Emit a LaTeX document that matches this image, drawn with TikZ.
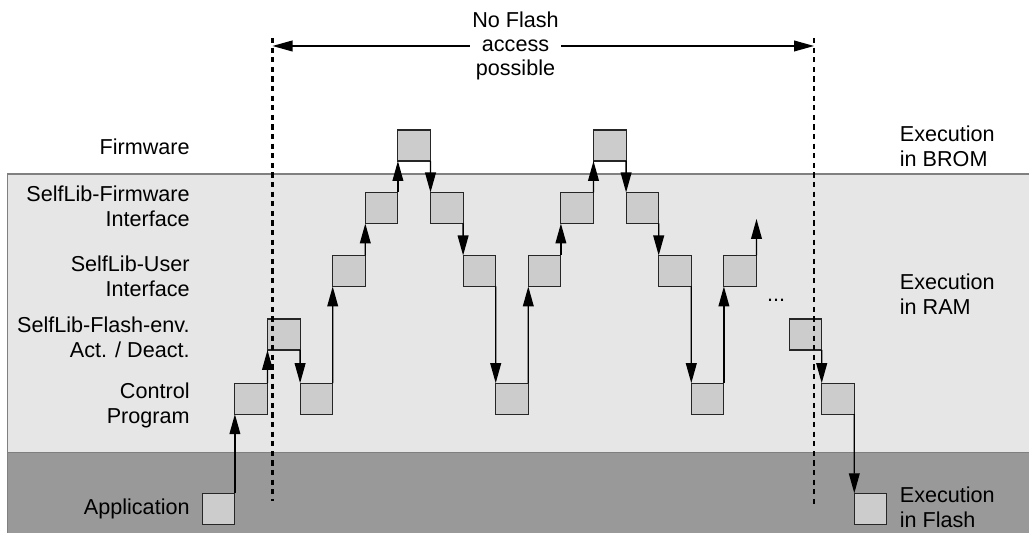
\documentclass[tikz,border=0pt]{standalone}
\usepackage{fontspec}
\setmainfont{Liberation Sans}
\usepackage{tikz}
\usetikzlibrary{arrows.meta}
\definecolor{ramgray}{HTML}{E6E6E6}
\definecolor{flashgray}{HTML}{999999}
\definecolor{boxgray}{HTML}{CCCCCC}
\definecolor{edgegray}{HTML}{808080}
\tikzstyle{blk} = [rectangle, minimum width=16.3pt, minimum height=15.5pt, inner sep=0pt, outer sep=0pt, draw=black!85, line width=0.55pt, fill=boxgray]
\tikzstyle{lvl} = [anchor=east, align=right, inner sep=0pt, font=\fontsize{10.8}{12.5}\selectfont]
\tikzstyle{mem} = [anchor=west, align=left, inner sep=0pt, font=\fontsize{10.8}{12.5}\selectfont]
\tikzstyle{arrow} = [line width=0.65pt, -{Triangle[length=10pt,width=5.4pt]}]
\tikzstyle{limit} = [line width=1.2pt, dash pattern=on 2.6pt off 2.2pt]

\begin{document}
\begin{tikzpicture}[x=0.5pt, y=0.5pt]
\useasboundingbox (0,0) rectangle (1029,533);

% memory areas
\filldraw[fill=ramgray, draw=edgegray, line width=0.6pt] (7.5,-2) rectangle (1040,359);
\filldraw[fill=flashgray, draw=edgegray, line width=0.6pt] (7.5,-2) rectangle (1040,80.3);

% level labels
\node (lfw) [lvl] at (190,386.3) {Firmware};
\node (lfi) [lvl] at (190,327.2) {SelfLib-Firmware\\Interface};
\node (lui) [lvl] at (190,256.3) {SelfLib-User\\Interface};
\node (lfe) [lvl] at (190,195.5) {SelfLib-Flash-env.\\Act. / Deact.};
\node (lcp) [lvl] at (190,127.2) {Control\\Program};
\node (lapp) [lvl] at (190,23.7) {Application};

\node (rbrom) [mem] at (899.5,387.2) {Execution\\in BROM};
\node (rram) [mem] at (899.5,238.8) {Execution\\in RAM};
\node (rflash) [mem] at (899.5,25.8) {Execution\\in Flash};

% call sequence
\node (app0) [blk] at (218.6,24.2) {};
\node (cp1) [blk] at (251.2,134.3) {};
\node (fe1) [blk] at (283.8,198.5) {};
\node (cp2) [blk] at (316.4,134.3) {};
\node (ui1) [blk] at (349.0,262) {};
\node (fi1) [blk] at (381.6,325) {};
\node (fw1) [blk] at (414.2,387.5) {};
\node (fi2) [blk] at (446.8,325) {};
\node (ui2) [blk] at (479.4,262) {};
\node (cp3) [blk] at (512.0,134.3) {};
\node (ui3) [blk] at (544.6,262) {};
\node (fi3) [blk] at (577.2,325) {};
\node (fw2) [blk] at (609.8,387.5) {};
\node (fi4) [blk] at (642.4,325) {};
\node (ui4) [blk] at (675.0,262) {};
\node (cp4) [blk] at (707.6,134.3) {};
\node (ui5) [blk] at (740.2,262) {};
\node (dots) [font=\fontsize{10.8}{12.5}\selectfont] at (776,233) {...};
\node (fe2) [blk] at (805.4,198.5) {};
\node (cp5) [blk] at (838.0,134.3) {};
\node (app1) [blk] at (870.6,24.2) {};
\coordinate (cont) at (756.5,314);

\draw [arrow] (app0.north east) -- (cp1.south west);
\draw [arrow] (cp1.north east) -- (fe1.south west);
\draw [arrow] (fe1.south east) -- (cp2.north west);
\draw [arrow] (cp2.north east) -- (ui1.south west);
\draw [arrow] (ui1.north east) -- (fi1.south west);
\draw [arrow] (fi1.north east) -- (fw1.south west);
\draw [arrow] (fw1.south east) -- (fi2.north west);
\draw [arrow] (fi2.south east) -- (ui2.north west);
\draw [arrow] (ui2.south east) -- (cp3.north west);
\draw [arrow] (cp3.north east) -- (ui3.south west);
\draw [arrow] (ui3.north east) -- (fi3.south west);
\draw [arrow] (fi3.north east) -- (fw2.south west);
\draw [arrow] (fw2.south east) -- (fi4.north west);
\draw [arrow] (fi4.south east) -- (ui4.north west);
\draw [arrow] (ui4.south east) -- (cp4.north west);
\draw [arrow] (cp4.north east) -- (ui5.south west);
\draw [arrow] (ui5.north east) -- (cont);
\draw [arrow] (fe2.south east) -- (cp5.north west);
\draw [arrow] (cp5.south east) -- (app1.north west);

% no flash access window
\coordinate (ltop) at (272.5,495);
\coordinate (lbot) at (272.5,32);
\coordinate (rtop) at (814,495);
\coordinate (rbot) at (814,28);
\draw[limit] (ltop) -- (lbot);
\draw[limit] (rtop) -- (rbot);
\node (nfa) [align=center, inner sep=1pt, font=\fontsize{10.8}{12.2}\selectfont] at (515.5,487) {No Flash\\access\\possible};
\draw [arrow] (nfa) -- (nfa -| ltop);
\draw [arrow] (nfa) -- (nfa -| rtop);

\end{tikzpicture}
\end{document}
